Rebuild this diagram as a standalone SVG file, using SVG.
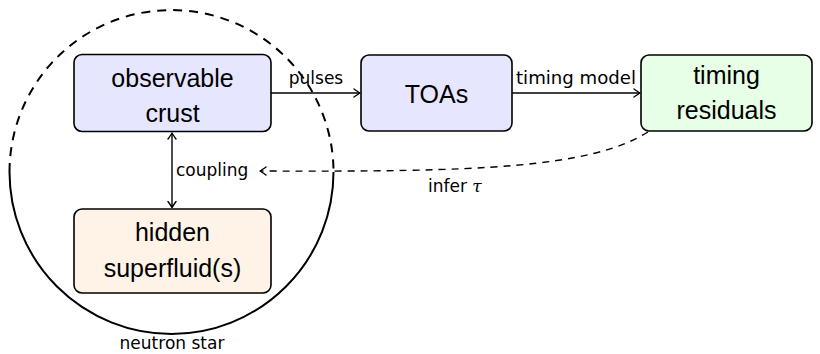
<svg xmlns="http://www.w3.org/2000/svg" width="820" height="354" viewBox="0 0 820 354">
<style>
  .node { stroke: #000; stroke-width: 1.6; }
  .blue { fill: #e6e6ff; }
  .green { fill: #e6ffe6; }
  .orange { fill: #fff2e6; }
  .big { font-family: "Liberation Sans", Arial, sans-serif; font-size: 25px; fill: #000; text-anchor: middle; }
  .lab { font-family: "DejaVu Sans", "Liberation Sans", sans-serif; font-size: 17px; fill: #000; }
  .edge { fill: none; stroke: #000; stroke-width: 1.4; }
  .dash { stroke-dasharray: 7 6; }
</style>
<defs>
  <marker id="arr" viewBox="-7 -5 8 10" markerWidth="8" markerHeight="10" refX="0" refY="0" orient="auto-start-reverse" markerUnits="userSpaceOnUse">
    <path d="M -6,-4 Q -1.5,-0.8 0,0 Q -1.5,0.8 -6,4" fill="none" stroke="#000" stroke-width="1.4" stroke-linecap="round" stroke-linejoin="round"/>
  </marker>
</defs>

<g id="neutron-star">
  <path d="M 9.5,172 A 162,162 0 0 1 333.5,172" fill="none" stroke="#000" stroke-width="2" stroke-dasharray="9 7"/>
  <path d="M 333.5,172 A 162,162 0 0 1 9.5,172" fill="none" stroke="#000" stroke-width="2"/>
  <text class="lab" x="172" y="349" text-anchor="middle">neutron star</text>
</g>

<g id="crust">
  <rect class="node blue" x="74" y="54.5" width="197" height="77" rx="8"/>
  <text class="big" x="172.5" y="86.5">observable</text>
  <text class="big" x="172.5" y="121.5">crust</text>
</g>

<g id="superfluid">
  <rect class="node orange" x="74" y="209" width="197" height="84" rx="8"/>
  <text class="big" x="172.5" y="240.5">hidden</text>
  <text class="big" x="172.5" y="276.5">superfluid(s)</text>
</g>

<g id="toas">
  <rect class="node blue" x="361" y="55" width="151" height="76" rx="8"/>
  <text class="big" x="436.5" y="103">TOAs</text>
</g>

<g id="residuals">
  <rect class="node green" x="641" y="55" width="171" height="76" rx="8"/>
  <text class="big" x="726.5" y="84">timing</text>
  <text class="big" x="726.5" y="119">residuals</text>
</g>

<g id="connectors">
  <path class="edge" d="M 271,93 L 360,93" marker-end="url(#arr)"/>
  <text class="lab" x="316" y="84" text-anchor="middle">pulses</text>

  <path class="edge" d="M 512,93 L 640,93" marker-end="url(#arr)"/>
  <text class="lab" x="576" y="84" text-anchor="middle" textLength="120" lengthAdjust="spacingAndGlyphs">timing model</text>

  <path class="edge" d="M 172,133 L 172,207.5" marker-start="url(#arr)" marker-end="url(#arr)"/>
  <text class="lab" x="176" y="176">coupling</text>

  <path class="edge dash" d="M 648,132 C 590,168 480,172 260,171" marker-end="url(#arr)"/>
  <text class="lab" x="428" y="192">infer <tspan font-family="DejaVu Serif, Liberation Serif, serif" font-style="italic">τ</tspan></text>
</g>
</svg>
